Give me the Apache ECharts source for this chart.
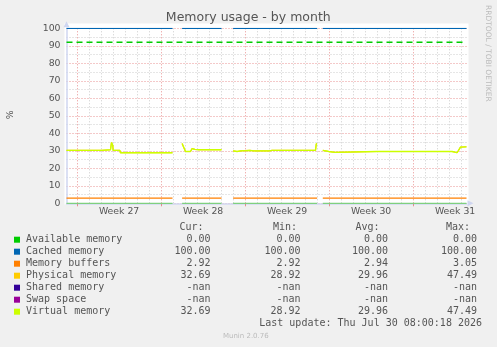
<!DOCTYPE html>
<html><head><meta charset="utf-8">
<script src="https://cdn.jsdelivr.net/npm/echarts@6/dist/echarts.min.js"></script>
<style>html,body{margin:0;padding:0;background:#f0f0f0}#c{width:497px;height:347px}</style>
</head><body><div id="c"></div><script>
// ---- data (x in hours from Monday 00:00 of Week 27) ----
const xMin = -21.2, xMax = 778.8;
const weekStarts = [0, 168, 336, 504, 672];
const weekLabelPos = [84, 252, 420, 588, 756];
const weekLabels = ['Week 27', 'Week 28', 'Week 29', 'Week 30', 'Week 31'];
const yTicks = [0, 10, 20, 30, 40, 50, 60, 70, 80, 90, 100];

const segStart = [-21.2, 210, 312, 491.4];
const segEnd = [190.8, 288.8, 480, 778.8];
const availableSeg = [0, 0, 0, 0];
const cachedSeg = [100, 100, 100, 100];
const buffersSeg = [2.92, 2.92, 2.92, 2.92];
const warningLevel = 92;

const virtualHours = [
  -21.2, 49.4, 50, 66.8, 68.8, 71.4, 72, 85.4, 86.8, 190.8, 200,
  210, 216.8, 226.8, 230, 235.4, 239.4, 243.4, 247.4, 251.4, 255.4, 260, 288.8, 300,
  312, 320, 327.4, 345.4, 349.4, 353.4, 383.4, 385.4, 390, 476.8, 478.4, 480, 485,
  491.4, 493.4, 503.4, 505.4, 515.4, 516.8, 599.4, 600.8, 602.4, 619.4, 620.8, 622.4, 750, 751.4, 760, 766.8, 778.8
];
const virtualValues = [
  30.2, 30.2, 30.6, 30.6, 34.8, 33.0, 30.2, 30.2, 28.9, 28.9, null,
  34.2, 29.6, 29.6, 31.3, 30.8, 31.5, 30.6, 31.2, 30.7, 31.2, 30.6, 30.6, null,
  30.0, 29.6, 30.0, 30.2, 30.4, 30.0, 30.0, 29.6, 30.2, 30.2, 34.0, 34.0, null,
  30.2, 29.6, 29.6, 29.0, 29.1, 29.6, 29.6, 29.0, 29.6, 29.6, 29.0, 29.6, 29.6, 28.9, 28.9, 32.1, 32.3
];
const physicalValues = virtualValues;

const legendNames = ['Available memory', 'Cached memory', 'Memory buffers', 'Physical memory', 'Shared memory', 'Swap space', 'Virtual memory'];
const legendColors = ['#00CC00', '#0066B3', '#FF8000', '#FFCC00', '#330099', '#990099', '#CCFF00'];
const curValues = ['0.00', '100.00', '2.92', '32.69', '-nan', '-nan', '32.69'];
const minValues = ['0.00', '100.00', '2.92', '28.92', '-nan', '-nan', '28.92'];
const avgValues = ['0.00', '100.00', '2.94', '29.96', '-nan', '-nan', '29.96'];
const maxValues = ['0.00', '100.00', '3.05', '47.49', '-nan', '-nan', '47.49'];
const lastUpdate = 'Last update: Thu Jul 30 08:00:18 2026';

// ---- helpers ----
function segSeries(vals) {
  const out = [];
  for (let i = 0; i < segStart.length; i++) {
    out.push([segStart[i], vals[i]], [segEnd[i], vals[i]]);
    if (i < segStart.length - 1) out.push([(segEnd[i] + segStart[i + 1]) / 2, '-']);
  }
  return out;
}
function pairSeries(hours, vals) {
  return hours.map((h, i) => [h, vals[i] === null ? '-' : vals[i]]);
}
const dayTicks = [];
for (let h = 0; h <= xMax; h += 24) if (h % 168 !== 0) dayTicks.push(h);

const AXIS = '#cfd6f0';
const RED = 'rgba(225,110,110,0.75)';
const GREY = '#cccccc';
const SANS = 'DejaVu Sans';
const MONO = 'DejaVu Sans Mono';
const TXT = '#555';

const chart = echarts.init(document.getElementById('c'), null, {renderer: 'canvas'});

const graphics = [
  {type: 'rect', z: -100, shape: {x: 64.5, y: 23.5, width: 404, height: 181}, style: {fill: '#ffffff'}, silent: true},
  {type: 'text', x: 248.3, y: 11, style: {text: 'Memory usage - by month', font: '12.5px ' + SANS, fill: TXT, align: 'center', textAlign: 'center'}},
  {type: 'text', x: 10.5, y: 114.7, rotation: Math.PI / 2, style: {text: '%', font: '9.33px ' + SANS, fill: TXT, align: 'center', textAlign: 'center', verticalAlign: 'middle', textVerticalAlign: 'middle'}},
  {type: 'text', x: 488, y: 53.3, rotation: -Math.PI / 2, style: {text: 'RRDTOOL / TOBI OETIKER', font: '7.5px ' + SANS, fill: '#bbbbbb', align: 'center', textAlign: 'center', verticalAlign: 'middle', textVerticalAlign: 'middle'}},
  {type: 'text', x: 245.8, y: 336, style: {text: 'Munin 2.0.76', font: '7px ' + SANS, fill: '#bbbbbb', align: 'center', textAlign: 'center', verticalAlign: 'middle', textVerticalAlign: 'middle'}}
];
function txt(s, x, y, align) {
  graphics.push({type: 'text', x: x, y: y, style: {text: s, font: '10px ' + MONO, fill: TXT, align: align, textAlign: align, verticalAlign: 'middle', textVerticalAlign: 'middle'}});
}
txt('Cur:', 203.5, 227.5, 'right');
txt('Min:', 297, 227.5, 'right');
txt('Avg:', 379.5, 227.5, 'right');
txt('Max:', 470, 227.5, 'right');
for (let i = 0; i < legendNames.length; i++) {
  const y = 239.7 + 12 * i;
  graphics.push({type: 'rect', shape: {x: 14, y: y - 3, width: 6, height: 6}, style: {fill: legendColors[i]}});
  txt(legendNames[i], 26, y, 'left');
  txt(curValues[i], 210.5, y, 'right');
  txt(minValues[i], 300.5, y, 'right');
  txt(avgValues[i], 388, y, 'right');
  txt(maxValues[i], 477, y, 'right');
}
txt(lastUpdate, 482, 323, 'right');

const lineBase = {type: 'line', showSymbol: false, symbol: 'none', connectNulls: false, animation: false, silent: true, xAxisIndex: 0, yAxisIndex: 0};

chart.setOption({
  backgroundColor: '#f0f0f0',
  animation: false,
  grid: {left: 66.5, top: 28.3, width: 400, height: 175, show: false, containLabel: false},
  xAxis: [
    {
      type: 'value', min: xMin, max: xMax, position: 'bottom',
      axisLine: {show: true, onZero: false, lineStyle: {color: AXIS, width: 1.5}, symbol: ['none', 'triangle'], symbolSize: [6, 6], symbolOffset: [0, 4]},
      axisTick: {show: false, customValues: dayTicks},
      splitLine: {show: true, lineStyle: {color: GREY, type: [1, 2], width: 1}},
      axisLabel: {show: true, customValues: weekLabelPos, margin: 4, color: TXT, fontFamily: SANS, fontSize: 9.33,
        formatter: v => weekLabels[weekLabelPos.indexOf(v)] || ''}
    },
    {
      type: 'value', min: xMin, max: xMax, position: 'bottom', gridIndex: 0,
      axisLine: {show: false, onZero: false},
      axisTick: {show: true, customValues: weekStarts, length: 3, inside: false, lineStyle: {color: RED}},
      splitLine: {show: true, lineStyle: {color: RED, type: [1, 2], width: 1}},
      axisLabel: {show: false}
    }
  ],
  yAxis: [{
    type: 'value', min: 0, max: 100, interval: 10,
    axisLine: {show: true, onZero: false, lineStyle: {color: AXIS, width: 1.5}, symbol: ['none', 'triangle'], symbolSize: [6, 6], symbolOffset: [0, 4]},
    axisTick: {show: false},
    splitLine: {show: true, lineStyle: {color: RED, type: [1, 2], width: 1}},
    minorTick: {show: false, splitNumber: 2},
    minorSplitLine: {show: true, lineStyle: {color: GREY, type: [1, 2], width: 1}},
    axisLabel: {margin: 6, color: TXT, fontFamily: SANS, fontSize: 9.33, formatter: v => yTicks.indexOf(v) >= 0 ? String(v) : ''}
  }],
  graphic: {elements: graphics},
  series: [
    Object.assign({}, lineBase, {name: 'warning', data: [[xMin, warningLevel], [xMax - 5, warningLevel]], lineStyle: {color: '#00CC00', width: 1.5, type: [6, 4]}}),
    Object.assign({}, lineBase, {name: legendNames[1], data: segSeries(cachedSeg), lineStyle: {color: legendColors[1], width: 1.2}}),
    Object.assign({}, lineBase, {name: legendNames[2], data: segSeries(buffersSeg), lineStyle: {color: legendColors[2], width: 1.2}}),
    Object.assign({}, lineBase, {name: legendNames[3], data: pairSeries(virtualHours, physicalValues), lineStyle: {color: legendColors[3], width: 1.2}}),
    Object.assign({}, lineBase, {name: legendNames[6], data: pairSeries(virtualHours, virtualValues), lineStyle: {color: legendColors[6], width: 1.3}}),
    Object.assign({}, lineBase, {name: legendNames[0], data: segSeries(availableSeg), lineStyle: {color: '#7fd07f', width: 1.2}})
  ]
});
</script></body></html>
